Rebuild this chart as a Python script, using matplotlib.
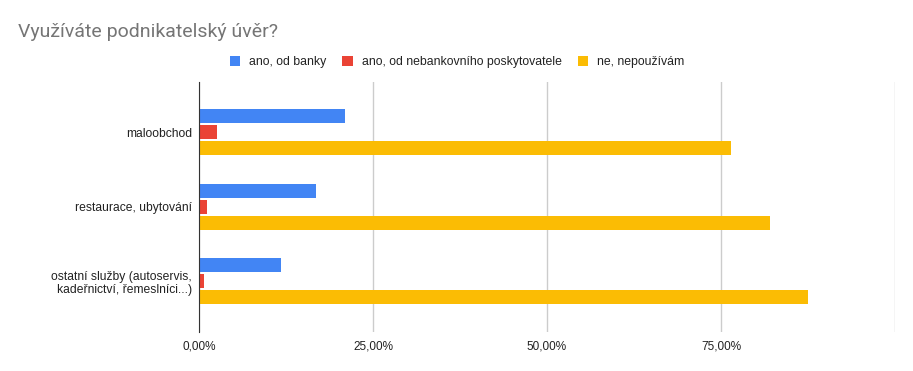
import numpy as np
import matplotlib
matplotlib.use("Agg")
import matplotlib.pyplot as plt

categories = ["maloobchod", "restaurace, ubytování",
              "ostatní služby (autoservis,\nkadeřnictví, řemeslníci...)"]
series_names = ["ano, od banky", "ano, od nebankovního poskytovatele", "ne, nepoužívám"]
banka = [21.0, 16.8, 11.8]
nebankovni = [2.6, 1.1, 0.7]
nepouzivam = [76.4, 82.1, 87.5]
series = [banka, nebankovni, nepouzivam]
colors = ["#4285f4", "#ea4335", "#fbbc04"]
xticks = [0, 25, 50, 75, 100]
xticklabels = ["0,00%", "25,00%", "50,00%", "75,00%", ""]

plt.rcParams['font.family'] = ['Liberation Sans', 'DejaVu Sans']

fig = plt.figure(figsize=(9.13, 3.71), dpi=100)
ax = fig.add_axes([199/913, 1 - 332/371, 696/913, 250/371])

y = np.arange(len(categories))
h = 0.187
step = 0.214
for k, (vals, name, c) in enumerate(zip(series, series_names, colors)):
    ax.barh(y + (k - 1) * step, vals, height=h, color=c, label=name, zorder=3)

ax.set_xlim(0, 100)
ax.set_ylim(2.677, -0.67)
ax.set_xticks(xticks)
ax.set_xticklabels(xticklabels, fontsize=8.5, color="#222222")
ax.set_yticks(y)
ax.set_yticklabels(categories, fontsize=8.7, color="#222222", linespacing=1.15)
ax.tick_params(axis="both", length=0, pad=5)
ax.tick_params(axis="x", pad=6)
ax.grid(axis="x", color="#cccccc", linewidth=1, zorder=0)
for s in ["top", "right", "bottom"]:
    ax.spines[s].set_visible(False)
ax.spines["left"].set_color("#333333")
ax.spines["left"].set_zorder(4)

fig.text(18/913, 1 - 32/371, "Využíváte podnikatelský úvěr?", fontsize=14,
         color="#757575", va="center", ha="left", family=["Roboto", "DejaVu Sans"])

fig.legend(loc="center", bbox_to_anchor=(457/913, 1 - 62/371), ncol=3, frameon=False,
           fontsize=8.8, handlelength=0.85, handleheight=0.85, handletextpad=0.75,
           columnspacing=1.3, labelcolor="#222222")

fig.savefig("out.png", dpi=100)
